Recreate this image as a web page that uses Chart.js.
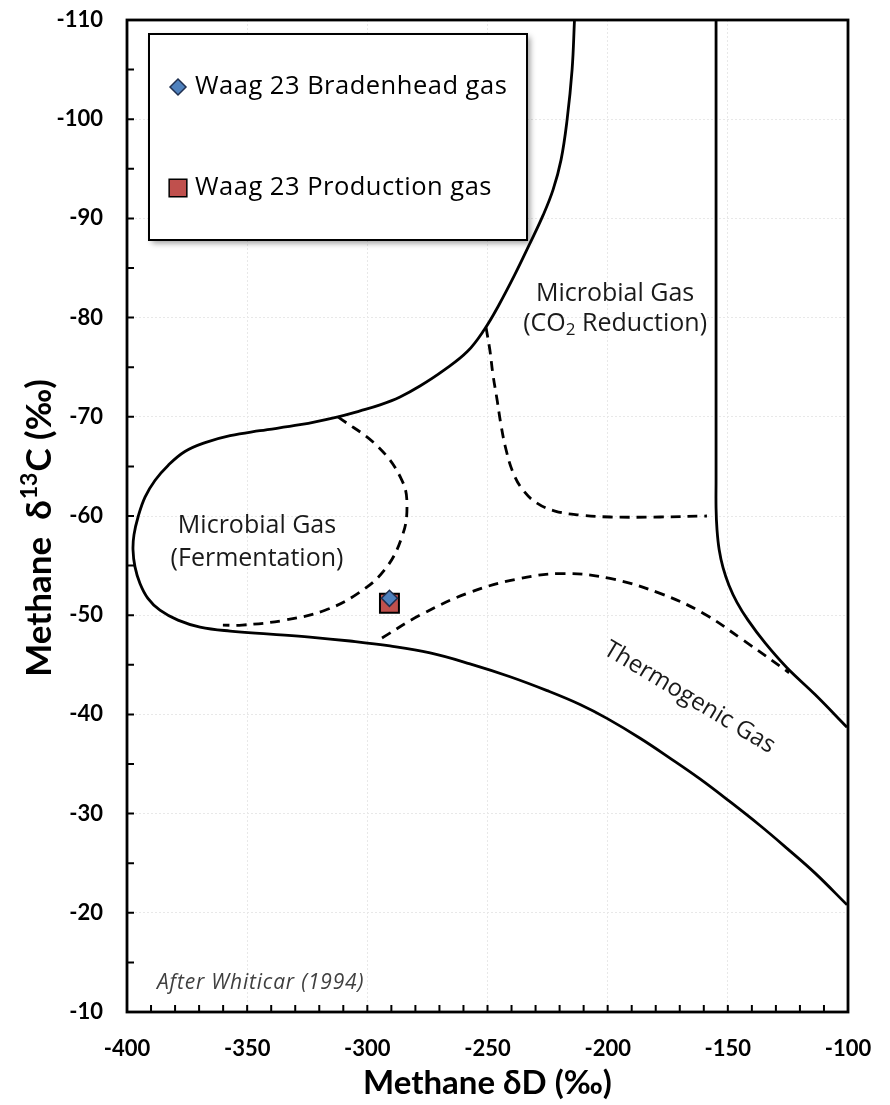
<!DOCTYPE html>
<html>
<head>
<meta charset="utf-8">
<script src="https://cdn.jsdelivr.net/npm/chart.js@4.4.1/dist/chart.umd.min.js"></script>
<style>
  body { margin: 0; background: #fff; }
  canvas { display: block; }
</style>
</head>
<body>
<canvas id="gasChart" width="890" height="1105"></canvas>
<script>
  // methane dD (x) vs d13C (y), boundaries after Whiticar (1994)
  const outerX = [-213.8, -214.8, -216.9, -219.4, -222.7, -226.9, -232.7, -238.7, -245.2, -251.3, -258.3, -268.1, -278.1, -286.4, -294.7, -303.0, -312.2, -328.0, -344.7, -357.1, -367.5, -375.9, -382.9, -388.3, -392.5, -395.4, -397.1, -397.5, -396.7, -394.6, -391.3, -386.3, -378.8, -369.6, -357.1, -340.5, -323.9, -307.2, -290.6, -273.9, -257.3, -240.6, -225.2, -211.5, -200.3, -186.5, -174.1, -161.6, -149.1, -136.6, -125.4, -113.7, -100.4];
  const outerY = [-110, -105.0, -99.9, -95.9, -92.9, -90.3, -87.3, -84.3, -81.3, -78.8, -76.6, -74.7, -73.1, -72.0, -71.2, -70.6, -70.0, -69.2, -68.6, -68.1, -67.4, -66.5, -65.1, -63.6, -61.9, -59.9, -58.1, -56.6, -54.9, -53.2, -51.7, -50.5, -49.5, -48.8, -48.4, -48.1, -47.8, -47.4, -46.9, -46.2, -45.1, -43.8, -42.4, -41.0, -39.6, -37.6, -35.6, -33.5, -31.2, -28.8, -26.5, -24.0, -20.8];

  const rightX = [-154.9, -154.9, -154.9, -154.9, -154.5, -153.6, -152.0, -149.5, -146.2, -141.6, -134.5, -125.4, -113.7, -100.4];
  const rightY = [-110, -81.8, -63.6, -60.8, -58.6, -56.6, -54.8, -53.0, -51.3, -49.5, -47.2, -44.7, -42.0, -38.7];

  const fermX = [-312.2, -295.6, -285.6, -283.5, -285.6, -292.7, -303.9, -317.6, -334.3, -352.1, -360.1];
  const fermY = [-70.0, -67.0, -63.6, -60.9, -57.9, -54.6, -52.2, -50.5, -49.5, -49.0, -49.0];

  const co2X = [-250.6, -249.0, -247.7, -246.0, -244.4, -242.3, -239.4, -235.2, -229.4, -221.9, -211.5, -199.0, -178.2, -158.7];
  const co2Y = [-79.0, -76.7, -74.2, -71.7, -69.2, -66.7, -64.4, -62.6, -61.3, -60.5, -60.1, -59.9, -59.9, -60.0];

  const thermoX = [-293.9, -278.1, -257.3, -236.5, -218.6, -199.0, -178.2, -160.3, -143.7, -124.5];
  const thermoY = [-47.7, -50.0, -52.3, -53.7, -54.2, -53.7, -52.2, -50.2, -47.5, -44.2];

  const sampleNames = ["Waag 23 Bradenhead gas", "Waag 23 Production gas"];
  const sampleX = [-290.8, -290.8];
  const sampleY = [-51.7, -51.2];

  function pts(xs, ys) {
    return xs.map((v, i) => ({ x: v, y: ys[i] }));
  }

  function curve(xs, ys, dashed) {
    return {
      data: pts(xs, ys),
      showLine: true,
      borderColor: "#000",
      borderWidth: 2.8,
      borderDash: dashed ? [10, 7] : [],
      tension: 0.4,
      pointRadius: 0,
      fill: false
    };
  }

  Chart.defaults.font.family = "Lato, 'Liberation Sans', sans-serif";
  Chart.defaults.color = "#000";

  const overlay = {
    id: "overlay",
    afterDraw(chart) {
      const ctx = chart.ctx;
      const a = chart.chartArea;
      const x = chart.scales.x;
      const y = chart.scales.y;
      ctx.save();

      // inside tick marks
      ctx.strokeStyle = "#000";
      ctx.lineWidth = 2;
      ctx.beginPath();
      for (let v = -390; v < -100; v += 10) {
        const px = x.getPixelForValue(v);
        ctx.moveTo(px, a.bottom);
        ctx.lineTo(px, a.bottom - 7);
      }
      for (let v = -105; v <= -15; v += 5) {
        const py = y.getPixelForValue(v);
        ctx.moveTo(a.left, py);
        ctx.lineTo(a.left + 7, py);
      }
      ctx.stroke();

      // frame
      ctx.lineWidth = 2.8;
      ctx.strokeRect(a.left, a.top, a.right - a.left, a.bottom - a.top);

      // y axis title with superscript
      ctx.save();
      ctx.translate(40, (a.top + a.bottom) / 2 + 12);
      ctx.rotate(-Math.PI / 2);
      ctx.fillStyle = "#000";
      ctx.textBaseline = "middle";
      ctx.textAlign = "left";
      const big = "bold 35px Lato", small = "bold 23px Lato";
      ctx.font = big;
      const t1 = "Methane  δ", t3 = "C (‰)";
      const a1 = ctx.measureText(t1).width, a3 = ctx.measureText(t3).width;
      ctx.font = small;
      const a2 = ctx.measureText("13").width + 2;
      const tx = -(a1 + a2 + a3) / 2;
      ctx.font = big;
      ctx.fillText(t1, tx, 0);
      ctx.font = small;
      ctx.fillText("13", tx + a1 + 1, -10);
      ctx.font = big;
      ctx.fillText(t3, tx + a1 + a2, 0);
      ctx.restore();

      // region labels
      const lab = "25px 'Open Sans'";
      ctx.fillStyle = "#1a1a1a";
      ctx.font = lab;
      ctx.textAlign = "center";
      ctx.textBaseline = "middle";
      ctx.fillText("Microbial Gas", x.getPixelForValue(-196.9), y.getPixelForValue(-82.4));
      ctx.fillText("Microbial Gas", x.getPixelForValue(-345.9), y.getPixelForValue(-59.0));
      ctx.fillText("(Fermentation)", x.getPixelForValue(-345.9), y.getPixelForValue(-55.7));

      // (CO2 Reduction) with subscript
      const cx = x.getPixelForValue(-196.9);
      const cy = y.getPixelForValue(-79.4);
      const p1 = "(CO", p2 = " Reduction)";
      const w1 = ctx.measureText(p1).width;
      const w3 = ctx.measureText(p2).width;
      ctx.font = "17px 'Open Sans'";
      const w2 = ctx.measureText("2").width;
      const sx = cx - (w1 + w2 + w3) / 2;
      ctx.textAlign = "left";
      ctx.font = lab;
      ctx.fillText(p1, sx, cy);
      ctx.font = "17px 'Open Sans'";
      ctx.fillText("2", sx + w1, cy + 7);
      ctx.font = lab;
      ctx.fillText(p2, sx + w1 + w2, cy);

      // thermogenic, rotated
      ctx.save();
      ctx.translate(x.getPixelForValue(-166), y.getPixelForValue(-41.7));
      ctx.rotate(31 * Math.PI / 180);
      ctx.textAlign = "center";
      ctx.font = "24px 'Open Sans'";
      ctx.fillText("Thermogenic Gas", 0, 0);
      ctx.restore();

      ctx.fillStyle = "#404040";
      ctx.font = "italic 21px 'Open Sans'";
      ctx.letterSpacing = "0.8px";
      ctx.textAlign = "left";
      ctx.fillText("After Whiticar (1994)", x.getPixelForValue(-387.5), y.getPixelForValue(-12.9));
      ctx.letterSpacing = "0px";

      // legend box
      const lx = a.left + 22, ly = a.top + 14, lw = 378, lh = 206;
      ctx.save();
      ctx.shadowColor = "rgba(0,0,0,0.4)";
      ctx.shadowBlur = 6;
      ctx.shadowOffsetX = 3;
      ctx.shadowOffsetY = 3;
      ctx.fillStyle = "#fff";
      ctx.fillRect(lx, ly, lw, lh);
      ctx.restore();
      ctx.lineWidth = 2;
      ctx.strokeStyle = "#000";
      ctx.strokeRect(lx, ly, lw, lh);

      const rows = [ly + 53, ly + 154];
      chart.data.datasets.slice(5).forEach((ds, i) => {
        ctx.fillStyle = ds.backgroundColor;
        ctx.strokeStyle = ds.borderColor;
        ctx.lineWidth = 1.5;
        Chart.helpers.drawPoint(ctx, {
          pointStyle: ds.pointStyle,
          radius: i === 0 ? 8 : 12.5,
          borderWidth: 1.5
        }, lx + 29, rows[i]);
        ctx.fillStyle = "#000";
        ctx.font = "25.5px 'Open Sans'";
        ctx.letterSpacing = "0.5px";
        ctx.textAlign = "left";
        ctx.textBaseline = "middle";
        ctx.fillText(ds.label, lx + 46, rows[i]);
        ctx.letterSpacing = "0px";
      });

      ctx.restore();
    }
  };

  new Chart(document.getElementById("gasChart"), {
    type: "scatter",
    data: {
      datasets: [
        curve(outerX, outerY, false),
        curve(rightX, rightY, false),
        curve(fermX, fermY, true),
        curve(co2X, co2Y, true),
        curve(thermoX, thermoY, true),
        {
          label: sampleNames[0],
          data: [{ x: sampleX[0], y: sampleY[0] }],
          pointStyle: "rectRot",
          pointRadius: 8,
          backgroundColor: "#4f81bd",
          borderColor: "#1f2f4f",
          borderWidth: 1.5
        },
        {
          label: sampleNames[1],
          data: [{ x: sampleX[1], y: sampleY[1] }],
          pointStyle: "rect",
          pointRadius: 13.4,
          backgroundColor: "#c0504d",
          borderColor: "#000",
          borderWidth: 2
        }
      ]
    },
    options: {
      responsive: false,
      animation: false,
      layout: { padding: { top: 20, right: 42, left: 0, bottom: 0 } },
      plugins: { legend: { display: false }, tooltip: { enabled: false } },
      scales: {
        x: {
          type: "linear",
          min: -400,
          max: -100,
          ticks: { stepSize: 50, padding: 24, font: { size: 22, weight: "bold" } },
          grid: { color: "#e8e8e8", drawTicks: false },
          border: { display: false, dash: [2, 2] },
          title: {
            display: true,
            text: "Methane δD (‰)",
            font: { size: 33, weight: "bold" },
            padding: { top: 0, bottom: 2 }
          },
          afterFit(scale) {
            scale.height = 93;
            scale.paddingLeft = 0;
            scale.paddingRight = 0;
          }
        },
        y: {
          type: "linear",
          reverse: true,
          min: -110,
          max: -10,
          ticks: { stepSize: 10, padding: 24, font: { size: 22, weight: "bold" } },
          grid: { color: "#e8e8e8", drawTicks: false },
          border: { display: false, dash: [2, 2] },
          afterFit(scale) {
            scale.width = 127;
            scale.paddingTop = 0;
            scale.paddingBottom = 0;
          }
        }
      }
    },
    plugins: [overlay]
  });
</script>
</body>
</html>
